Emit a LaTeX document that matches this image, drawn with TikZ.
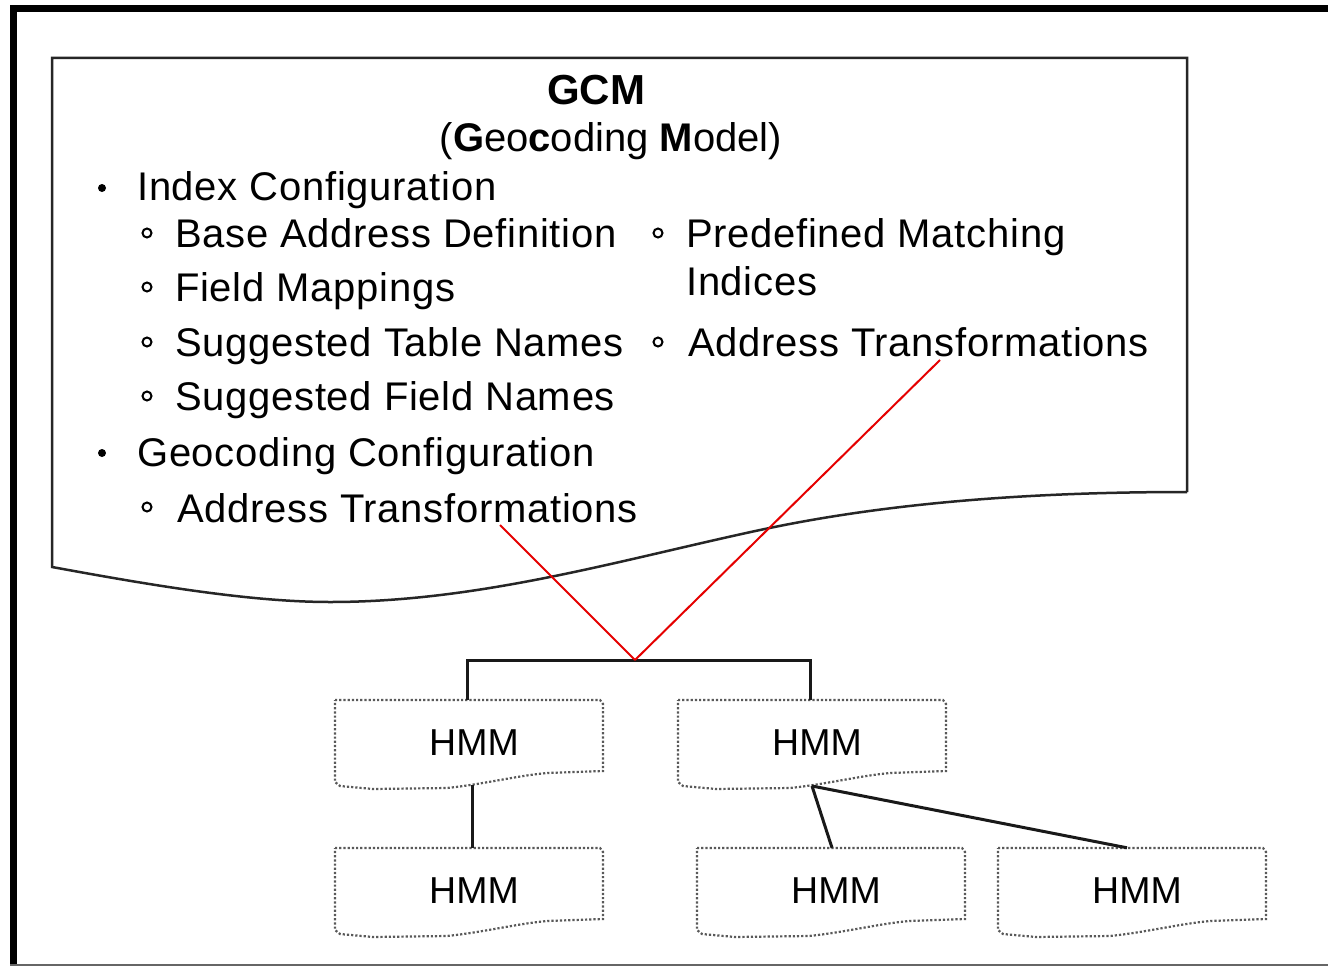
\documentclass[tikz,border=0pt]{standalone}
\usepackage{fontspec}
\setmainfont{Liberation Sans}
\newfontfamily\listfont[LetterSpace=1.8]{Liberation Sans}
\usetikzlibrary{calc}
\begin{document}
\begin{tikzpicture}[x=1pt,y=-1pt,
  frame/.style={line width=7pt,black},
  doc/.style={line width=2.5pt,draw=black!85},
  txt/.style={anchor=base west,inner sep=0pt,font=\listfont\fontsize{40}{46}\selectfont},
  hmmbox/.style={line width=2.2pt,draw=black!65,dash pattern=on 2.2pt off 2pt},
  hmmlabel/.style={inner sep=0pt,minimum width=268pt,minimum height=85pt,font=\fontsize{37.5}{42}\selectfont},
  tree/.style={line width=3pt,black!90},
  link/.style={line width=2pt,red!90!black},
  dot/.style={fill=black},
  ring/.style={draw=black,line width=2pt}]
\useasboundingbox (0,0) rectangle (1328,966);
\fill[white] (0,0) rectangle (1328,966);
% outer frame
\draw[frame] (13.5,966) -- (13.5,8.5) -- (1328,8.5);
\draw[line width=1.5pt,black!60] (10,965) -- (1328,965);

% GCM document shape
\draw[doc] (1187,492) -- (1187,58) -- (52,58) -- (52,567)
  .. controls (150,585) and (250,602) .. (330,602)
  .. controls (480,602) and (620,560) .. (760,530)
  .. controls (900,500) and (1050,492) .. (1187,492);

% title
\node[anchor=base,inner sep=0pt,font=\fontsize{42}{46}\selectfont\bfseries] (gcm) at (596,104) {GCM};
\node[anchor=base,inner sep=0pt,font=\fontsize{40}{46}\selectfont] (gcmfull) at (611,151)
  {(\textbf{G}eo\textbf{c}oding \textbf{M}odel)};

% list
\node[txt] (l1) at (137,200) {Index Configuration};
\node[txt] (l2) at (175,247) {Base Address Definition};
\node[txt] (l3) at (175,301) {Field Mappings};
\node[txt] (l4) at (175,356) {Suggested Table Names};
\node[txt] (l5) at (175,410) {Suggested Field Names};
\node[txt] (l6) at (137,466) {Geocoding Configuration};
\node[txt] (l7) at (177,522) {Address Transformations};
\node[txt] (r1) at (686,247) {Predefined Matching};
\node[txt] (r2) at (686,295) {Indices};
\node[txt] (r3) at (688,356) {Address Transformations};

\foreach \y in {188,453} \fill[dot] (102,\y) circle (4pt);
\foreach \x/\y in {147/233,147/287,147/342,147/396,147/507,658/233,658/342}
  \draw[ring] (\x,\y) circle (4.5pt);

% HMM boxes: dotted outline with a wavy lower edge
\newcommand{\hmmshape}[2]{%
  \draw[hmmbox,shift={(#1,#2)}] (0,0) -- (265,0) -- (268,4) -- (268,71)
    -- (212,73) .. controls (180,76) and (150,84) .. (112,88)
    -- (38,89) -- (5,86) -- (0,82) -- cycle;}
\hmmshape{335}{700}
\hmmshape{678}{700}
\hmmshape{335}{848}
\hmmshape{697}{848}
\hmmshape{998}{848}
\node[hmmlabel] (h1) at (474,742.5) {HMM};
\node[hmmlabel] (h2) at (817,742.5) {HMM};
\node[hmmlabel] (h3) at (474,890.5) {HMM};
\node[hmmlabel] (h4) at (836,890.5) {HMM};
\node[hmmlabel] (h5) at (1137,890.5) {HMM};

% tree connectors
\coordinate (j) at (635,660);
\draw[tree] (467,700) -- (467,660) -- (810,660) -- (810,700);
\draw[tree] ($(h1.south)+(-2,0)$) -- ($(h3.north)+(-2,0)$);
\coordinate (b2) at (812,786);
\draw[tree] (b2) -- ($(h4.north)+(-4,0)$);
\draw[tree] (b2) -- ($(h5.north)+(-10,0)$);

% red links from the transformation items
\draw[link] ($(l7.base west)+(323,3)$) -- (j);
\draw[link] ($(r3.base west)+(252,4)$) -- (j);
\end{tikzpicture}
\end{document}
